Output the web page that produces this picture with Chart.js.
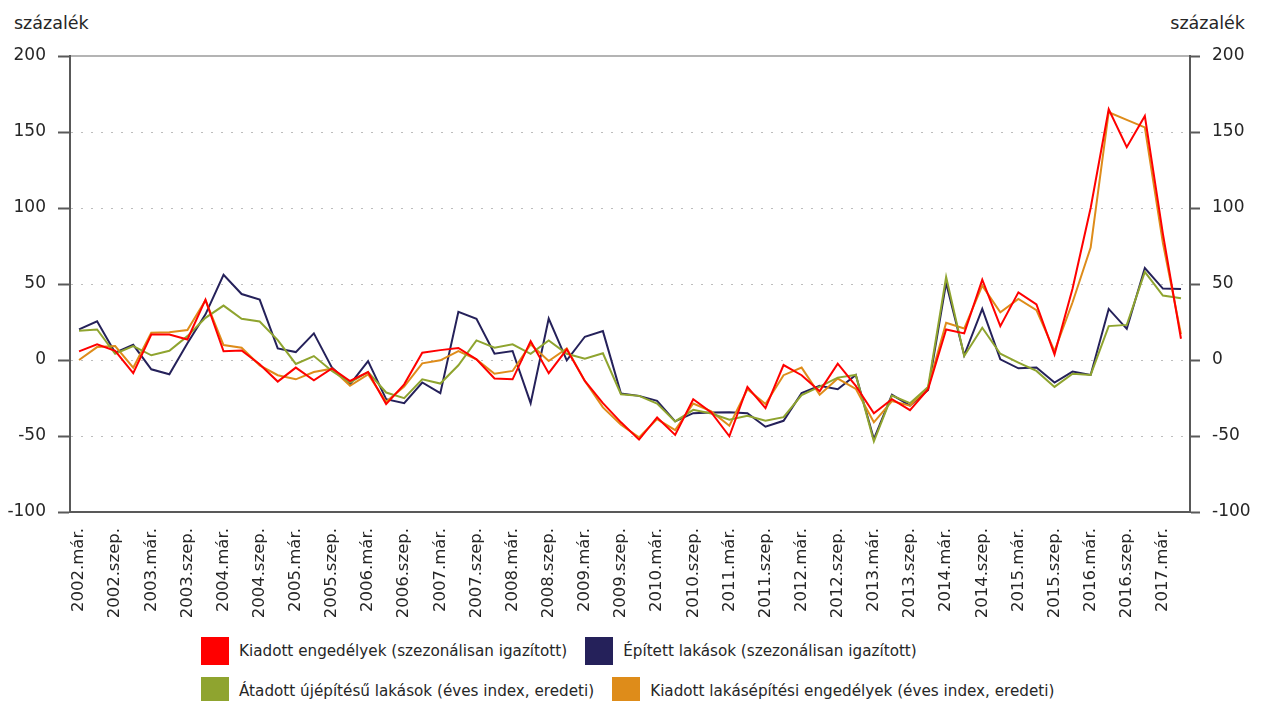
<!DOCTYPE html>
<html>
<head>
<meta charset="utf-8">
<script src="https://cdn.jsdelivr.net/npm/chart.js@4.4.1/dist/chart.umd.min.js"></script>
<style>
    body { margin: 0; background: #fff; font-family: "DejaVu Sans", sans-serif; color: #262626; }
    #wrap { position: relative; width: 1261px; height: 701px; overflow: hidden; }
    #chartBox { position: absolute; left: 0; top: 0; width: 1261px; height: 630px; }
    .unit { position: absolute; top: 12px; font-size: 17.5px; line-height: 22px; }
    #legend { position: absolute; left: 201px; top: 637px; font-size: 15.2px; }
    .row { display: flex; align-items: center; height: 28px; margin-bottom: 12px; }
    .item { display: flex; align-items: center; margin-right: 18px; white-space: nowrap; }
    .box { width: 28px; height: 28px; margin-right: 10px; }
</style>
</head>
<body>
<div id="wrap">
    <div class="unit" style="left:14px">százalék</div>
    <div class="unit" style="right:16px">százalék</div>
    <div id="chartBox"><canvas id="lakasChart"></canvas></div>
    <div id="legend"></div>
</div>
<script>
// negyedéves adatok, 2002.már. - 2017.jún.
var years = [2002, 2003, 2004, 2005, 2006, 2007, 2008, 2009, 2010, 2011, 2012, 2013, 2014, 2015, 2016, 2017];
var months = ['már.', 'jún.', 'szep.', 'dec.'];
var quarter_labels = [];
for (var i = 0; i < years.length; i++) {
    for (var j = 0; j < months.length; j++) {
        if (years[i] == 2017 && j > 1) break;
        quarter_labels.push(years[i] + '.' + months[j]);
    }
}

var kiadott_sa = [5.7, 10.3, 6, -8.7, 16.8, 16.8, 13.5, 39.7, 5.7, 6.3, -2.8, -14.2, -5.0, -13.3, -5.5, -13.8,
    -7.9, -29, -16, 4.8, 6.5, 7.9, 0.4, -12.2, -12.7, 12.4, -8.7, 7.0, -13.8, -28.4, -41, -52.4,
    -37.8, -49.3, -25.8, -34.5, -50.2, -17.7, -31.7, -3.3, -10, -20.5, -2.4, -17, -35, -25.8, -33, -19.2,
    20.1, 17.5, 52.8, 22.3, 44.5, 36.5, 3.7, 47, 100, 165, 140, 160.5, 83, 14];
var epitett_sa = [20.1, 25.5, 4.8, 10, -6.1, -9.4, 11, 30, 56.1, 43.4, 39.7, 7.6, 5.2, 17.5, -5, -16,
    -0.7, -25.8, -28.4, -14.8, -21.8, 31.7, 27.1, 4.1, 5.9, -28.4, 27.3, -0.2, 15.3, 19.0, -22.1, -23.6,
    -26.9, -40.4, -35.0, -34.5, -34.3, -35.0, -43.9, -40, -21.8, -17, -19.2, -9.8, -52, -22.9, -30, -19.7,
    50.7, 3.1, 33.6, 0.4, -5.5, -5, -14.8, -7.6, -9.8, 33.6, 20.5, 60.5, 47, 46.7];
var atadott_eves = [19.2, 20.1, 4.1, 9.2, 3.1, 6.1, 15.7, 27.7, 35.8, 27.1, 25.3, 13.1, -2.6, 2.6, -7.2, -14.8,
    -7.9, -21.4, -25.1, -12.7, -15.5, -3.5, 12.9, 8.1, 10.3, 4.1, 12.9, 4.1, 0.9, 4.4, -22.5, -23.6,
    -28.6, -40.4, -32.8, -35.2, -39.3, -36.7, -40, -37.6, -23.1, -17.5, -11.6, -9.8, -53.5, -23.4, -28.4, -17.7,
    54.6, 2.6, 21.2, 4.1, -1.7, -7.2, -17.7, -9.0, -9.8, 22.3, 23.1, 58, 42.4, 40.6];
var kiadott_eves = [0, 8.5, 9.2, -5, 17.9, 18.3, 19.7, 39.3, 9.8, 8.1, -3.5, -10, -12.7, -7.9, -5.7, -17,
    -9.4, -27.5, -17.5, -2.2, -0.2, 5.9, 0.4, -9, -7.2, 10.3, -0.7, 7.6, -13.8, -31.2, -42.6, -50.9,
    -38.9, -46.1, -28.6, -33.8, -43.2, -19.2, -29, -10, -5, -22.9, -12.2, -19, -41, -27, -30, -18,
    24.5, 20.7, 48.9, 31.4, 40.2, 32.8, 5.9, 38, 74, 163, 158, 153, 77, 17];

var series_names = [
    'Kiadott engedélyek (szezonálisan igazított)',
    'Épített lakások (szezonálisan igazított)',
    'Átadott újépítésű lakások (éves index, eredeti)',
    'Kiadott lakásépítési engedélyek (éves index, eredeti)'
];
var series_colors = ['#ff0000', '#25215a', '#8fa42f', '#de8c1a'];
var series_data = [kiadott_sa, epitett_sa, atadott_eves, kiadott_eves];
var draw_order = [0, 3, 1, 2];

var font_family = '"DejaVu Sans", sans-serif';
var axis_color = '#595959';
var text_color = '#262626';

var lakas_datasets = [];
for (var i = 0; i < series_data.length; i++) {
    lakas_datasets.push({
        label: series_names[i],
        data: series_data[i],
        borderColor: series_colors[i],
        backgroundColor: series_colors[i],
        borderWidth: 2,
        pointRadius: 0,
        tension: 0,
        order: draw_order[i]
    });
}

var lakas_chart_config = {
    type: 'line',
    data: {
        labels: quarter_labels,
        datasets: lakas_datasets
    },
    options: {
        responsive: true,
        maintainAspectRatio: false,
        animation: false,
        layout: { padding: { top: 56, left: 0, right: 0, bottom: 0 } },
        plugins: {
            legend: { display: false },
            tooltip: { enabled: false }
        },
        scales: {
            x: {
                type: 'category',
                position: 'bottom',
                offset: true,
                grid: { display: false },
                border: { color: axis_color, width: 2 },
                ticks: {
                    autoSkip: false,
                    minRotation: 90,
                    maxRotation: 90,
                    padding: 8,
                    color: text_color,
                    font: { family: font_family, size: 16.5 },
                    callback: function(value, index) {
                        return index % 2 == 0 ? this.getLabelForValue(value) : '';
                    }
                },
                afterFit: function(scale) { scale.height = 118; }
            },
            xTop: {
                type: 'category',
                position: 'top',
                labels: quarter_labels,
                offset: true,
                grid: { display: false },
                ticks: { display: false },
                border: { color: '#b4b4b4', width: 2 },
                afterFit: function(scale) { scale.height = 0; }
            },
            y: {
                position: 'left',
                min: -100,
                max: 200,
                ticks: {
                    stepSize: 50,
                    padding: 12,
                    color: text_color,
                    font: { family: font_family, size: 17 }
                },
                grid: { color: '#bdbdbd', lineWidth: 1, tickColor: axis_color, tickLength: 12, tickWidth: 2 },
                border: { color: axis_color, width: 2, dash: [2, 8] },
                afterFit: function(scale) { scale.width = 70; }
            },
            y2: {
                position: 'right',
                min: -100,
                max: 200,
                ticks: {
                    stepSize: 50,
                    padding: 12,
                    color: text_color,
                    font: { family: font_family, size: 17 }
                },
                grid: { drawOnChartArea: false, tickColor: axis_color, tickLength: 10, tickWidth: 2 },
                border: { color: axis_color, width: 2 },
                afterFit: function(scale) { scale.width = 71; }
            }
        }
    }
};

function draw_legend(chart) {
    var rows = [[0, 1], [2, 3]];
    var html = '';
    for (var r = 0; r < rows.length; r++) {
        html += '<div class="row">';
        for (var k = 0; k < rows[r].length; k++) {
            var ds = chart.data.datasets[rows[r][k]];
            html += '<div class="item"><span class="box" style="background:' + ds.borderColor + '"></span>' + ds.label + '</div>';
        }
        html += '</div>';
    }
    document.getElementById('legend').innerHTML = html;
}

var myContext = document.getElementById('lakasChart');
var myChart = new Chart(myContext, lakas_chart_config);
draw_legend(myChart);
</script>
</body>
</html>
